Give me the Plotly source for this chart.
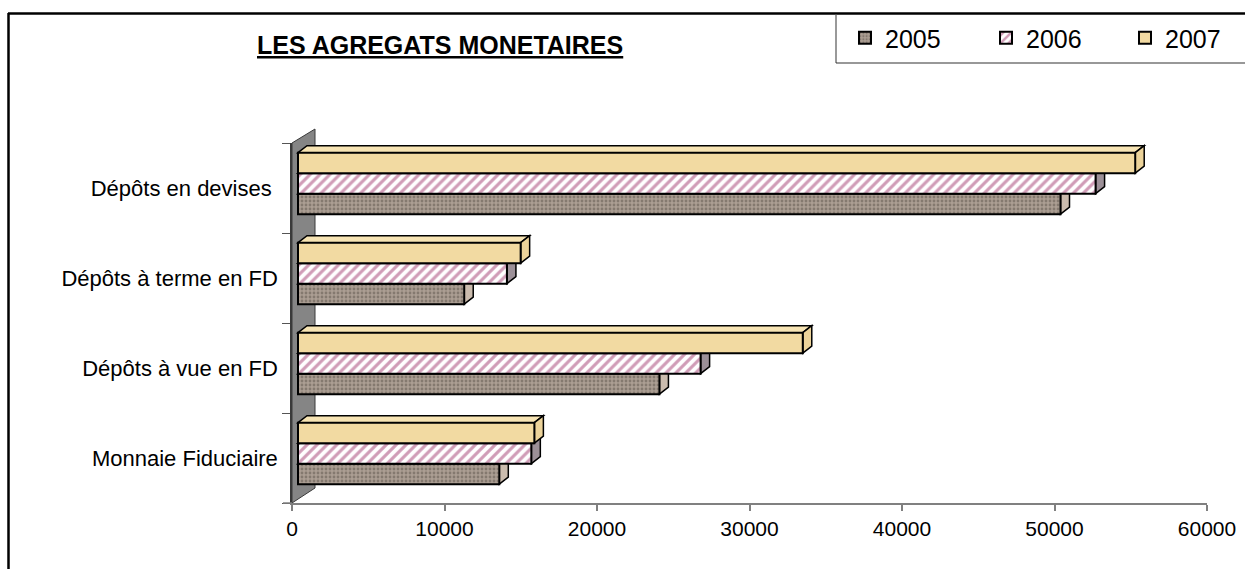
import plotly.graph_objects as go

# ---------------- data ----------------
categories = ["Monnaie Fiduciaire", "Dépôts à vue en FD", "Dépôts à terme en FD", "Dépôts en devises\u00a0"]
years = ["2005", "2006", "2007"]
v2005 = [13200, 23700, 10900, 50000]
v2006 = [15300, 26400, 13700, 52300]
v2007 = [15500, 33100, 14600, 54900]
x_ticks = [0, 10000, 20000, 30000, 40000, 50000, 60000]
title_text = "LES AGREGATS MONETAIRES"

# ---------------- layout constants ----------------
W, H = 1245, 569
L, R, T, B = 292, 38, 143, 66
PW, PH = W - L - R, H - T - B
XMAX = 60000
px_x = XMAX / PW            # data units per px (x)
px_y = len(categories) / PH  # data units per px (y)

BASE = 6 * px_x             # bars sit slightly behind the front plane
DX, DY = 9 * px_x, 7 * px_y  # 3D depth offset of the bars
BW = 20.5 * px_y             # bar thickness
SHIFT = 4.6 * px_y

series = [v2005, v2006, v2007]
front_fill = ["#a3968b", "white", "#f2daa2"]
top_fill = ["#c9bcb0", "#d9c4d0", "#f7e4b4"]
side_fill = ["#cbbcae", "#9c9098", "#ecd39a"]
patterns = [
    dict(shape=".", fgcolor="#5e534c", bgcolor="#ab9e93", size=4, solidity=0.4),
    dict(shape="/", fgcolor="#a23a70", bgcolor="white", size=7, solidity=0.45),
    dict(shape="", fgcolor="#e9cf90", bgcolor="#f2daa2"),
]
legend_item_x = [845, 986, 1125]   # page px of each legend entry start

fig = go.Figure()
shapes = []

def ppx(x):
    return (x - L) / PW

def ppy(y):
    return (H - B - y) / PH

# wall on the left
shapes.append(dict(type="path", xref="paper", yref="paper",
                   path=f"M{ppx(292)},{ppy(503)} L{ppx(292)},{ppy(143)} L{ppx(315)},{ppy(129)} L{ppx(315)},{ppy(488)} Z",
                   fillcolor="#858585", line=dict(color="#3a3a3a", width=1), layer="below"))

font_family = "Liberation Sans, Arial, sans-serif"
legend_layouts = {}

for k, (yr, vals) in enumerate(zip(years, series)):
    ys = [i + SHIFT + (k - 1) * BW for i in range(len(categories))]
    lname = "legend" if k == 0 else f"legend{k + 1}"
    fig.add_trace(go.Bar(
        name=yr, y=ys, x=vals, base=[BASE] * len(vals), orientation="h", width=BW,
        marker=dict(color=front_fill[k], pattern=patterns[k], line=dict(color="black", width=2)),
        hoverinfo="skip", legend=lname,
    ))
    legend_layouts[lname] = dict(orientation="h", x=ppx(legend_item_x[k]), xanchor="left",
                                 y=ppy(38), yanchor="middle",
                                 font=dict(family=font_family, size=25, color="black"),
                                 bgcolor="rgba(0,0,0,0)", borderwidth=0)
    for y, v in zip(ys, vals):
        yt, yb = y + BW / 2, y - BW / 2
        xe = BASE + v
        shapes.append(dict(type="path", xref="x", yref="y", layer="below",
                           path=f"M{BASE},{yt} L{BASE + DX},{yt + DY} L{xe + DX},{yt + DY} L{xe},{yt} Z",
                           fillcolor=top_fill[k], line=dict(color="black", width=1.5)))
        shapes.append(dict(type="path", xref="x", yref="y", layer="below",
                           path=f"M{xe},{yb} L{xe + DX},{yb + DY} L{xe + DX},{yt + DY} L{xe},{yt} Z",
                           fillcolor=side_fill[k], line=dict(color="black", width=1.5)))

# outer chart border (top + left), legend box lines, axis extension
shapes += [
    dict(type="line", xref="paper", yref="paper", x0=ppx(8), x1=ppx(W), y0=ppy(13.5), y1=ppy(13.5),
         line=dict(color="black", width=2.5)),
    dict(type="line", xref="paper", yref="paper", x0=ppx(8.5), x1=ppx(8.5), y0=ppy(13), y1=ppy(H),
         line=dict(color="black", width=2.5)),
    dict(type="line", xref="paper", yref="paper", x0=ppx(836), x1=ppx(836), y0=ppy(14), y1=ppy(63),
         line=dict(color="#555555", width=1.2)),
    dict(type="line", xref="paper", yref="paper", x0=ppx(836), x1=ppx(W), y0=ppy(63), y1=ppy(63),
         line=dict(color="#333333", width=1.2)),
    dict(type="line", xref="paper", yref="paper", x0=ppx(283), x1=ppx(292), y0=ppy(503), y1=ppy(503),
         line=dict(color="#808080", width=1.5)),
]

fig.update_layout(
    width=W, height=H,
    margin=dict(l=L, r=R, t=T, b=B, autoexpand=False),
    paper_bgcolor="white", plot_bgcolor="white",
    barmode="overlay",
    showlegend=True,
    shapes=shapes,
    annotations=[dict(text=f"<b><span style='text-decoration:underline'>{title_text}</span></b>",
                      xref="paper", yref="paper", x=ppx(440), y=ppy(45), xanchor="center", yanchor="middle",
                      showarrow=False, font=dict(family=font_family, size=25, color="black"))],
    xaxis=dict(range=[0, XMAX], tickvals=x_ticks, tickformat="d", showgrid=False, zeroline=False,
               showline=True, linecolor="#808080", linewidth=1.5,
               ticks="outside", ticklen=6, tickcolor="#808080", tickwidth=1.5,
               tickfont=dict(family=font_family, size=21, color="black")),
    yaxis=dict(range=[-0.5, len(categories) - 0.5], tickvals=list(range(len(categories))), ticktext=categories,
               showgrid=False, zeroline=False, showline=True, linecolor="#3a3a3a", linewidth=1.5,
               ticks="", ticklabelstandoff=8,
               minor=dict(tickvals=[i - 0.5 for i in range(len(categories) + 1)], ticks="outside",
                          ticklen=8, tickcolor="#555555", tickwidth=1.2, showgrid=False),
               tickfont=dict(family=font_family, size=22, color="black")),
    **legend_layouts,
)

fig.write_html("out.html", config={"displayModeBar": False},
               post_script="document.body.style.margin='0';document.body.style.overflow='hidden';")
